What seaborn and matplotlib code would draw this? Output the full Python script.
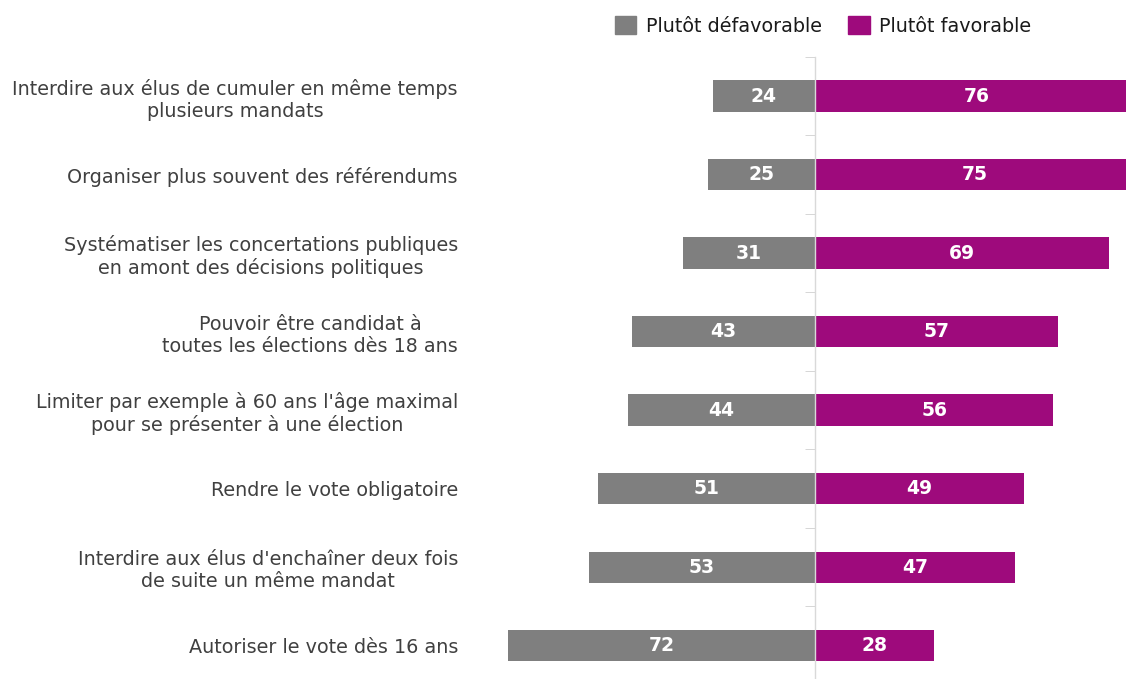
import pandas as pd
import matplotlib.pyplot as plt
import seaborn as sns

### Data
categories = [
    "Interdire aux élus de cumuler en même temps\nplusieurs mandats",
    "Organiser plus souvent des référendums",
    "Systématiser les concertations publiques\nen amont des décisions politiques",
    "Pouvoir être candidat à\ntoutes les élections dès 18 ans",
    "Limiter par exemple à 60 ans l'âge maximal\npour se présenter à une élection",
    "Rendre le vote obligatoire",
    "Interdire aux élus d'enchaîner deux fois\nde suite un même mandat",
    "Autoriser le vote dès 16 ans",
]
defavorable = [24, 25, 31, 43, 44, 51, 53, 72]
favorable = [76, 75, 69, 57, 56, 49, 47, 28]
series = ["Plutôt défavorable", "Plutôt favorable"]
colors = ["#7f7f7f", "#9e0a7c"]

# long format, défavorable on the negative side
df = pd.concat([
    pd.DataFrame({"cat": categories, "val": [-v for v in defavorable], "serie": series[0]}),
    pd.DataFrame({"cat": categories, "val": favorable, "serie": series[1]}),
])

sns.set_style("white")
plt.rcParams['font.family'] = ['DejaVu Sans']

fig = plt.figure(figsize=(11.26, 6.79), dpi=100)
ax = fig.add_axes([0.4211, -0.0088, 0.6053, 0.925])

sns.barplot(data=df, x="val", y="cat", hue="serie", order=categories, hue_order=series,
            palette=colors, saturation=1, dodge=False, width=0.4, orient="h", ax=ax,
            legend=False, linewidth=0)

ax.set_xlim(-80, 80)
ax.set_ylim(len(categories) - 0.5, -0.5)
ax.set_xlabel("")
ax.set_ylabel("")
ax.set_xticks([])

# value labels
for cont, vals in zip(ax.containers, [defavorable, favorable]):
    ax.bar_label(cont, labels=[str(v) for v in vals], label_type="center",
                 color="white", fontweight="bold", fontsize=13.5)

# center axis line with small ticks between categories
for s in ["top", "right", "bottom"]:
    ax.spines[s].set_visible(False)
ax.spines["left"].set_position(("data", 0))
ax.spines["left"].set_color("#d9d9d9")
ax.spines["left"].set_linewidth(1)
ax.set_yticks([i + 0.5 for i in range(-1, len(categories))], minor=True)
ax.tick_params(axis="y", which="minor", length=7, color="#d0d0d0", left=True)
ax.tick_params(axis="y", which="major", length=0, pad=257, labelsize=13.8, labelcolor="#404040")
for lab in ax.get_yticklabels():
    lab.set_multialignment("center")

# legend
handles = [plt.Rectangle((0, 0), 1, 1, color=c) for c in colors]
fig.legend(handles, series, loc="center", bbox_to_anchor=(0.731, 0.962), ncol=2,
           frameon=False, fontsize=13.8, handlelength=1.1, handleheight=1.1,
           handletextpad=0.5, columnspacing=1.4, labelcolor="#1a1a1a")

plt.savefig("out.png", dpi=100)
